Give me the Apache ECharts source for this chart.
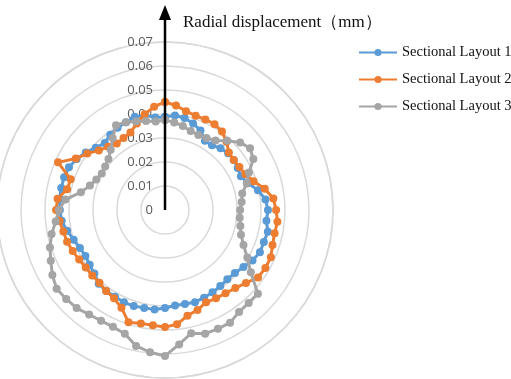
<!DOCTYPE html>
<html>
<head>
<meta charset="utf-8">
<script src="https://cdn.jsdelivr.net/npm/echarts@6/dist/echarts.min.js"></script>
<style>
  html, body { margin: 0; padding: 0; background: #fff; }
  #chart { width: 511px; height: 379px; }
</style>
</head>
<body>
<div id="chart"></div>
<script>
// measuring angles (degrees, clockwise from the top)
const angles = [0, 6, 12, 18, 24, 30, 36, 42, 48, 54, 60, 66, 72, 78, 84, 90, 96, 102, 108, 114,
  120, 126, 132, 138, 144, 150, 156, 162, 168, 174, 180, 186, 192, 198, 204, 210, 216, 222, 228, 234,
  240, 246, 252, 258, 264, 270, 276, 282, 288, 294, 300, 306, 312, 318, 324, 330, 336, 342, 348, 354];

const seriesNames = ['Sectional Layout 1', 'Sectional Layout 2', 'Sectional Layout 3'];

// radial displacement (mm)
const layout1 = [0.0388, 0.0396, 0.0392, 0.0379, 0.0363, 0.0333, 0.0333, 0.0346, 0.0354, 0.0354,
  0.035, 0.0346, 0.0363, 0.0396, 0.0421, 0.0429, 0.0425, 0.0438, 0.0433, 0.0433,
  0.0421, 0.0404, 0.0392, 0.0388, 0.0392, 0.0396, 0.04, 0.0404, 0.04, 0.04,
  0.0408, 0.0417, 0.0417, 0.0421, 0.0421, 0.0417, 0.0417, 0.0413, 0.0396, 0.0388,
  0.0383, 0.0388, 0.04, 0.0417, 0.0433, 0.0438, 0.0442, 0.0442, 0.0442, 0.0438,
  0.0425, 0.0408, 0.0388, 0.0375, 0.0388, 0.0396, 0.04, 0.0408, 0.0404, 0.0388];

const layout2 = [0.045, 0.0438, 0.0421, 0.0413, 0.0413, 0.0413, 0.0404, 0.0383, 0.0358, 0.0354,
  0.0358, 0.0367, 0.0388, 0.0425, 0.0454, 0.0463, 0.0471, 0.0467, 0.0471, 0.0483,
  0.0483, 0.0479, 0.0454, 0.0438, 0.0429, 0.0425, 0.0421, 0.0438, 0.045, 0.0479,
  0.0488, 0.0483, 0.0483, 0.0492, 0.0446, 0.0425, 0.0417, 0.0408, 0.0408, 0.0408,
  0.0413, 0.0421, 0.0429, 0.0433, 0.0442, 0.0454, 0.045, 0.0417, 0.0413, 0.0488,
  0.0429, 0.04, 0.0371, 0.0354, 0.0342, 0.0346, 0.0354, 0.0379, 0.0408, 0.0433];

const layout3 = [0.0375, 0.0367, 0.0358, 0.0346, 0.0342, 0.0346, 0.0358, 0.0388, 0.0421, 0.0438,
  0.0425, 0.0383, 0.0358, 0.0329, 0.0321, 0.0313, 0.0313, 0.0321, 0.0333, 0.0358,
  0.0396, 0.0442, 0.0521, 0.0521, 0.0525, 0.0542, 0.0542, 0.0542, 0.0525, 0.0563,
  0.0608, 0.0596, 0.0579, 0.0542, 0.0533, 0.0533, 0.0538, 0.055, 0.0554, 0.0558,
  0.0542, 0.0521, 0.0504, 0.0483, 0.0458, 0.0442, 0.0417, 0.0358, 0.0329, 0.0313,
  0.0304, 0.0308, 0.0317, 0.0338, 0.0371, 0.0408, 0.04, 0.0388, 0.0379, 0.0371];

const colors = ['#5B9BD5', '#ED7D31', '#A5A5A5'];

const cx = 165, cy = 210, R = 168;

// pair each value with its angle and close the loop back to the first point
function toPolar(vals) {
  const pts = vals.map((v, i) => [v, angles[i]]);
  pts.push([vals[0], 360]);
  return pts;
}

const chart = echarts.init(document.getElementById('chart'));

const option = {
  animation: false,
  color: colors,
  title: {
    text: 'Radial displacement（mm）',
    left: 178,
    top: 9,
    textStyle: { fontFamily: 'Liberation Serif', fontSize: 17, fontWeight: 'normal', color: '#111' }
  },
  legend: {
    orient: 'vertical',
    left: 353,
    top: 40,
    itemWidth: 38,
    itemHeight: 9,
    itemGap: 12,
    data: seriesNames,
    textStyle: { fontFamily: 'Liberation Serif', fontSize: 14.5, color: '#111' }
  },
  polar: { center: [cx, cy], radius: R },
  angleAxis: {
    type: 'value',
    min: 0,
    max: 360,
    startAngle: 90,
    clockwise: true,
    axisLine: { show: true, lineStyle: { color: '#D9D9D9', width: 1.5 } },
    axisTick: { show: false },
    axisLabel: { show: false },
    splitLine: { show: false }
  },
  radiusAxis: {
    type: 'value',
    min: 0,
    max: 0.07,
    interval: 0.01,
    axisLine: { show: false },
    axisTick: { show: false },
    axisLabel: {
      margin: 12,
      fontFamily: 'Open Sans',
      fontSize: 13,
      color: '#595959',
      formatter: v => String(+v.toFixed(2))
    },
    splitLine: { show: true, lineStyle: { color: '#D9D9D9', width: 1.5 } }
  },
  series: [layout1, layout2, layout3].map((vals, k) => ({
    name: seriesNames[k],
    type: 'line',
    coordinateSystem: 'polar',
    data: toPolar(vals),
    symbol: 'circle',
    symbolSize: 8,
    showSymbol: true,
    lineStyle: { width: 3 },
    z: 2 + k
  })),
  graphic: [
    {
      type: 'line',
      shape: { x1: cx, y1: cy, x2: cx, y2: 16 },
      style: { stroke: '#000', lineWidth: 2.5 },
      z: 100
    },
    {
      type: 'polygon',
      shape: { points: [[cx - 6, 20], [cx, 5], [cx + 6, 20]] },
      style: { fill: '#000' },
      z: 100
    }
  ]
};

chart.setOption(option);
</script>
</body>
</html>
